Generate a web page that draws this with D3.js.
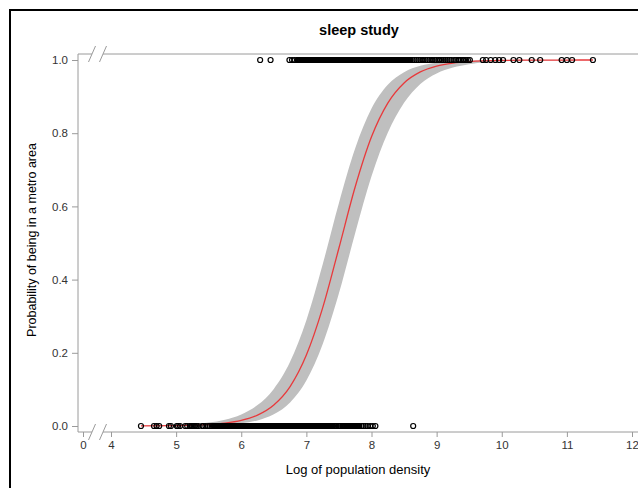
<!DOCTYPE html>
<html>
<head>
<meta charset="utf-8">
<script src="https://cdn.jsdelivr.net/npm/d3@7"></script>
<style>
  html, body { margin: 0; padding: 0; background: #fff; }
  svg { display: block; }
  text { font-family: "Liberation Sans", Arial, sans-serif; }
</style>
</head>
<body>
<div id="chart"></div>
<script>
// ---------------- data ----------------
const chartTitle = "sleep study";
const xLabel = "Log of population density";
const yLabel = "Probability of being in a metro area";

const xTicksMain = [4, 5, 6, 7, 8, 9, 10, 11, 12];
const xTicksLeft = [0];
const yTicks = [0, 0.2, 0.4, 0.6, 0.8, 1.0];

// observed log density for non-metro (0) cases
const zeroX = [4.46, 4.66, 4.70, 4.74, 4.89, 4.92, 5.01, 5.03, 5.06, 5.14, 5.17, 5.21, 5.23, 5.25, 5.27, 5.29, 5.31, 5.34, 5.40, 5.42, 5.45, 5.49, 5.52, 5.55,
  5.58, 5.59, 5.60, 5.61, 5.62, 5.64, 5.65, 5.66, 5.67, 5.68, 5.69,
  5.70, 5.71, 5.72, 5.73, 5.74, 5.75, 5.76, 5.77, 5.78,
  5.82, 5.83, 5.84, 5.85, 5.86, 5.87, 5.88, 5.89,
  5.90, 5.91, 5.92, 5.93, 5.94, 5.95, 5.96, 5.97, 5.98, 5.99,
  6.00, 6.01, 6.02, 6.03, 6.04, 6.07, 6.08, 6.09,
  6.10, 6.11, 6.12, 6.13, 6.14, 6.15, 6.16, 6.17, 6.18, 6.19,
  6.20, 6.21, 6.22, 6.23, 6.24, 6.25, 6.26, 6.27, 6.28, 6.29,
  6.30, 6.31, 6.32, 6.33, 6.34, 6.35, 6.36, 6.37, 6.38, 6.39,
  6.40, 6.41, 6.42, 6.43, 6.44, 6.45, 6.46, 6.47, 6.48, 6.49,
  6.50, 6.51, 6.52, 6.53, 6.54, 6.55, 6.56, 6.57, 6.58, 6.59,
  6.60, 6.61, 6.62, 6.63, 6.64, 6.65, 6.66, 6.67, 6.68, 6.69,
  6.70, 6.71, 6.72, 6.73, 6.74, 6.75, 6.76, 6.77, 6.78, 6.79,
  6.80, 6.81, 6.82, 6.83, 6.84, 6.85, 6.86, 6.87, 6.88, 6.89,
  6.90, 6.91, 6.92, 6.93, 6.94, 6.95, 6.96, 6.97, 6.98, 6.99,
  7.00, 7.01, 7.02, 7.03, 7.04, 7.05, 7.06, 7.07, 7.08, 7.09,
  7.10, 7.11, 7.12, 7.13, 7.14, 7.15, 7.16, 7.17, 7.18, 7.19,
  7.20, 7.21, 7.22, 7.23, 7.24, 7.25, 7.26, 7.27, 7.28, 7.29,
  7.30, 7.31, 7.32, 7.33, 7.34, 7.35, 7.36, 7.37, 7.38, 7.39,
  7.40, 7.41, 7.44, 7.45, 7.46, 7.49, 7.50, 7.51, 7.52,
  7.55, 7.56, 7.57, 7.58, 7.59, 7.60, 7.61, 7.62, 7.63, 7.64,
  7.65, 7.66, 7.67, 7.68, 7.69, 7.70, 7.71, 7.72, 7.73, 7.74,
  7.75, 7.76, 7.77, 7.78, 7.79, 7.80, 7.81,
  7.85, 7.88, 7.91, 7.94, 7.98, 8.02, 8.06, 8.64];

// observed log density for metro (1) cases
const oneX = [6.29, 6.45, 6.74, 6.78, 6.82,
  6.86, 6.87, 6.88, 6.89, 6.90, 6.91, 6.92, 6.93, 6.94, 6.95, 6.96, 6.97, 6.98, 6.99,
  7.00, 7.01, 7.02, 7.03, 7.04, 7.05, 7.06, 7.07, 7.08, 7.09,
  7.10, 7.11, 7.12, 7.14, 7.15, 7.16, 7.18, 7.19,
  7.20, 7.21, 7.22, 7.23, 7.24, 7.26, 7.27, 7.28, 7.29,
  7.30, 7.31, 7.32, 7.33, 7.34, 7.35, 7.36, 7.37, 7.38, 7.39,
  7.40, 7.41, 7.42, 7.43, 7.44, 7.45, 7.46, 7.47, 7.48, 7.49,
  7.50, 7.51, 7.52, 7.53, 7.54, 7.55, 7.56, 7.57, 7.58, 7.59,
  7.60, 7.61, 7.62, 7.63, 7.64, 7.65, 7.66, 7.67, 7.68, 7.69,
  7.70, 7.71, 7.72, 7.73, 7.74, 7.75, 7.76, 7.77, 7.78, 7.79,
  7.81, 7.82, 7.84, 7.85, 7.86, 7.88, 7.89,
  7.90, 7.91, 7.92, 7.93, 7.94, 7.95, 7.96, 7.97, 7.98, 7.99,
  8.00, 8.01, 8.02, 8.03, 8.04, 8.05, 8.06, 8.07, 8.08, 8.09,
  8.10, 8.11, 8.12, 8.13, 8.14, 8.15, 8.16, 8.17, 8.18, 8.19,
  8.20, 8.21, 8.22, 8.24, 8.25, 8.27, 8.28, 8.30, 8.31, 8.33, 8.34, 8.36, 8.37, 8.38, 8.39,
  8.40, 8.41, 8.42, 8.43, 8.44, 8.45, 8.46, 8.47, 8.48, 8.49,
  8.50, 8.51, 8.52, 8.53, 8.54, 8.55, 8.56, 8.57, 8.58, 8.59, 8.60,
  8.63, 8.66, 8.69, 8.72, 8.75, 8.78, 8.80, 8.83, 8.86, 8.89, 8.92, 8.94, 8.97, 9.00, 9.03,
  9.05, 9.08, 9.11, 9.14, 9.17, 9.20, 9.23, 9.27, 9.30, 9.33, 9.35,
  9.37, 9.40, 9.42, 9.45, 9.48, 9.51,
  9.71, 9.76, 9.83, 9.90, 9.96, 10.02, 10.18, 10.27, 10.46, 10.59, 10.92, 11.00, 11.08, 11.40];

// fitted probability curve with confidence limits
const fitX     = [4.46, 5.0, 5.5, 5.75, 6.0, 6.25, 6.5, 6.75, 7.0, 7.25, 7.5, 7.75, 8.0, 8.25, 8.5, 8.75, 9.0, 9.25, 9.5, 10.0, 10.5, 11.0, 11.4];
const fitP     = [0.0002, 0.0010, 0.0039, 0.0077, 0.0152, 0.0298, 0.0575, 0.1078, 0.1938, 0.3226, 0.4863, 0.6536, 0.7901, 0.8823, 0.9373, 0.9675, 0.9834, 0.9916, 0.9957, 0.9989, 0.9997, 0.9999, 1.0];
const fitLower = [0.0001, 0.0003, 0.0016, 0.0034, 0.0072, 0.0153, 0.0318, 0.0643, 0.1243, 0.2232, 0.3627, 0.5270, 0.6822, 0.8012, 0.8830, 0.9347, 0.9634, 0.9795, 0.9886, 0.9966, 0.9989, 0.9996, 0.9999];
const fitUpper = [0.0009, 0.0029, 0.0095, 0.0174, 0.0316, 0.0571, 0.1014, 0.1755, 0.2890, 0.4414, 0.6093, 0.7588, 0.8673, 0.9322, 0.9668, 0.9842, 0.9926, 0.9965, 0.9984, 0.9996, 0.9999, 1.0, 1.0];

// ---------------- layout ----------------
const W = 638, H = 488;
const svg = d3.select("#chart").append("svg").attr("width", W).attr("height", H);

const axisColor = "#9a9a9a";
const textColor = "#333";

const plotLeft = 78, plotTop = 54, plotBottom = 432, plotRight = 645;

const x = d3.scaleLinear().domain([4, 12]).range([111, 632]);
const xL = d3.scaleLinear().domain([0, 1]).range([83, 83 + (632 - 111) / 8]);
const y = d3.scaleLinear().domain([0, 1]).range([426, 60]);

// outer frame
svg.append("rect").attr("x", 10).attr("y", 10).attr("width", 700).attr("height", 600)
  .attr("fill", "none").attr("stroke", "#000").attr("stroke-width", 2);

// title
svg.append("text").attr("x", 359).attr("y", 35).attr("text-anchor", "middle")
  .attr("font-size", 14.5).attr("font-weight", "bold").attr("fill", "#000").text(chartTitle);

// confidence band
const fitData = fitX.map((v, i) => ({ x: v, p: fitP[i], lo: fitLower[i], hi: fitUpper[i] }));
svg.append("path").datum(fitData)
  .attr("fill", "#bfbfbf")
  .attr("d", d3.area().x(d => x(d.x)).y0(d => y(d.lo)).y1(d => y(d.hi)).curve(d3.curveMonotoneX));

// fitted line
svg.append("path").datum(fitData)
  .attr("fill", "none").attr("stroke", "#e8393b").attr("stroke-width", 1.3)
  .attr("d", d3.line().x(d => x(d.x)).y(d => y(d.p)).curve(d3.curveMonotoneX));

// observed points
const pts = zeroX.map(v => ({ x: v, y: 0 })).concat(oneX.map(v => ({ x: v, y: 1 })));
svg.append("g").selectAll("circle").data(pts).join("circle")
  .attr("cx", d => x(d.x)).attr("cy", d => y(d.y)).attr("r", 2.5)
  .attr("fill", "none").attr("stroke", "#000").attr("stroke-width", 1.2);

// ---------------- axes ----------------
const breakA = 92, breakB = 103;

// y axis
const yAxis = svg.append("g").attr("transform", `translate(${plotLeft},0)`)
  .call(d3.axisLeft(y).tickValues(yTicks).tickFormat(d3.format(".1f")).tickSize(6).tickPadding(4));
yAxis.select(".domain").remove();
svg.append("line").attr("x1", plotLeft).attr("x2", plotLeft).attr("y1", plotTop).attr("y2", plotBottom)
  .attr("stroke", axisColor);

// x axis (right segment)
const xAxis = svg.append("g").attr("transform", `translate(0,${plotBottom})`)
  .call(d3.axisBottom(x).tickValues(xTicksMain).tickFormat(d3.format("d")).tickSize(5).tickPadding(4));
xAxis.select(".domain").remove();
// x axis (left segment)
const xAxisL = svg.append("g").attr("transform", `translate(0,${plotBottom})`)
  .call(d3.axisBottom(xL).tickValues(xTicksLeft).tickFormat(d3.format("d")).tickSize(5).tickPadding(4));
xAxisL.select(".domain").remove();

[yAxis, xAxis, xAxisL].forEach(g => {
  g.selectAll(".tick line").attr("stroke", axisColor);
  g.selectAll(".tick text").attr("fill", textColor).attr("font-size", 11.5)
    .attr("font-family", '"Liberation Sans", Arial, sans-serif');
});

// horizontal axis lines with break (bottom and top)
[plotBottom, plotTop].forEach(yy => {
  svg.append("line").attr("x1", plotLeft).attr("x2", breakA).attr("y1", yy).attr("y2", yy).attr("stroke", axisColor);
  svg.append("line").attr("x1", breakB).attr("x2", plotRight).attr("y1", yy).attr("y2", yy).attr("stroke", axisColor);
  [breakA, breakB].forEach(bx => {
    svg.append("line").attr("x1", bx - 3.5).attr("y1", yy + 8).attr("x2", bx + 3.5).attr("y2", yy - 8)
      .attr("stroke", axisColor);
  });
});

// axis labels
svg.append("text").attr("x", 358).attr("y", 474).attr("text-anchor", "middle")
  .attr("font-size", 13).attr("fill", "#000").text(xLabel);
svg.append("text").attr("transform", "translate(36,240) rotate(-90)").attr("text-anchor", "middle")
  .attr("font-size", 12.5).attr("fill", "#000").text(yLabel);
</script>
</body>
</html>
